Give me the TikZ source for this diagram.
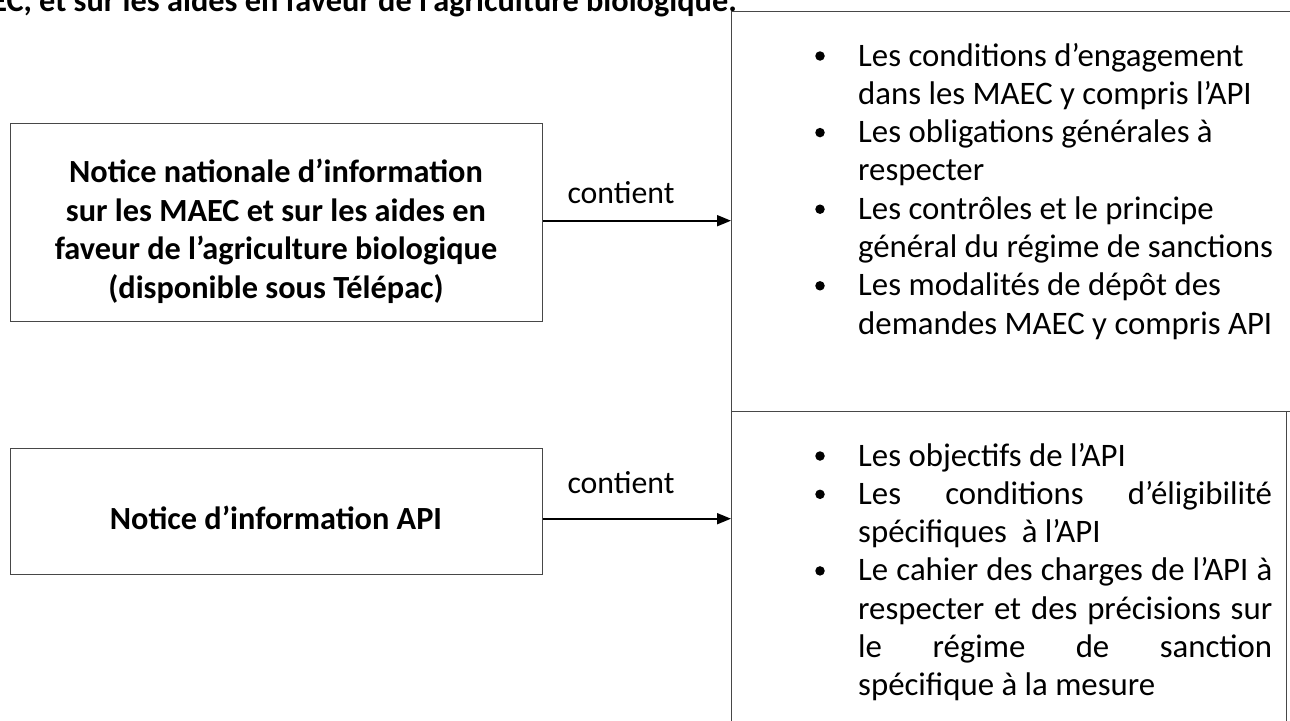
\documentclass[tikz,border=0pt]{standalone}
\usepackage{fontspec}
\setmainfont{Carlito}
\usetikzlibrary{arrows.meta}
\begin{document}
\begin{tikzpicture}[x=1pt,y=-1pt,
  box/.style={draw=black!72, line width=1.4pt, inner sep=0pt, anchor=north west},
  txt/.style={inner sep=0pt, anchor=base west, font=\fontsize{32.8}{38.3}\selectfont},
  btxt/.style={inner sep=0pt, anchor=base, font=\fontsize{32.3}{38.7}\selectfont\bfseries},
  lbl/.style={inner sep=0pt, anchor=base, font=\fontsize{31.8}{38.3}\selectfont},
  arr/.style={-{Triangle[length=14pt,width=11pt]}, line width=1.8pt, black},
  bul/.style={circle, fill=black, inner sep=0pt, minimum size=9.5pt}]
\useasboundingbox (0,0) rectangle (1290,720);
\clip (0,0) rectangle (1290,720);
\fill[white] (0,0) rectangle (1290,720);

% clipped title line
\node[inner sep=0pt, anchor=base east, font=\fontsize{32.3}{38.7}\selectfont\bfseries] (title) at (737,12)
  {MAEC, et sur les aides en faveur de l’agriculture biologique.};

% left boxes
\node[box, minimum width=532pt, minimum height=198pt] (b1) at (10,123) {};
\node[btxt] (b1l1) at (276,182) {Notice nationale d’information};
\node[btxt] (b1l2) at (276,221) {sur les MAEC et sur les aides en};
\node[btxt] (b1l3) at (276,259.5) {faveur de l’agriculture biologique};
\node[btxt] (b1l4) at (276,298) {(disponible sous Télépac)};

\node[box, minimum width=532pt, minimum height=126pt] (b2) at (10,448) {};
\node[btxt] (b2l1) at (276,529) {Notice d’information API};

% right boxes
\node[box, minimum width=620pt, minimum height=400pt] (r1) at (731,11) {};
\node[box, minimum width=555pt, minimum height=400pt] (r2) at (731,411) {};

% upper list
\node[bul] (u1) at (820,56) {};
\node[txt] (ut1) at (858,66) {Les conditions d’engagement};
\node[txt] (ut2) at (858,104.3) {dans les MAEC y compris l’API};
\node[bul] (u2) at (820,132.6) {};
\node[txt] (ut3) at (858,142.6) {Les obligations générales à};
\node[txt] (ut4) at (858,180.9) {respecter};
\node[bul] (u3) at (820,209.2) {};
\node[txt] (ut5) at (858,219.2) {Les contrôles et le principe};
\node[txt] (ut6) at (858,257.5) {général du régime de sanctions};
\node[bul] (u4) at (820,285.8) {};
\node[txt] (ut7) at (858,295.8) {Les modalités de dépôt des};
\node[txt] (ut8) at (858,334.1) {demandes MAEC y compris API};

% lower list
\node[bul] (l1) at (820,456) {};
\node[txt] (lt1) at (858,466) {Les objectifs de l’API};
\node[bul] (l2) at (820,494.3) {};
\node[txt] (lt2) at (858,504.3) {\makebox[414pt][s]{Les conditions d’éligibilité}};
\node[txt] (lt3) at (858,542.6) {spécifiques\ \ à l’API};
\node[bul] (l3) at (820,570.9) {};
\node[txt] (lt4) at (858,580.9) {\makebox[414pt][s]{Le cahier des charges de l’API à}};
\node[txt] (lt5) at (858,619.2) {\makebox[414pt][s]{respecter et des précisions sur}};
\node[txt] (lt6) at (858,657.5) {\makebox[414pt][s]{le régime de sanction}};
\node[txt] (lt7) at (858,695.8) {spécifique à la mesure};

% connectors
\draw[arr] ([yshift=2pt]b1.east) -- ([yshift=2pt]b1.east -| r1.west);
\node[lbl] (c1) at (621,203) {contient};
\draw[arr] ([yshift=-7pt]b2.east) -- ([yshift=-7pt]b2.east -| r2.west);
\node[lbl] (c2) at (621,493) {contient};
\end{tikzpicture}
\end{document}
